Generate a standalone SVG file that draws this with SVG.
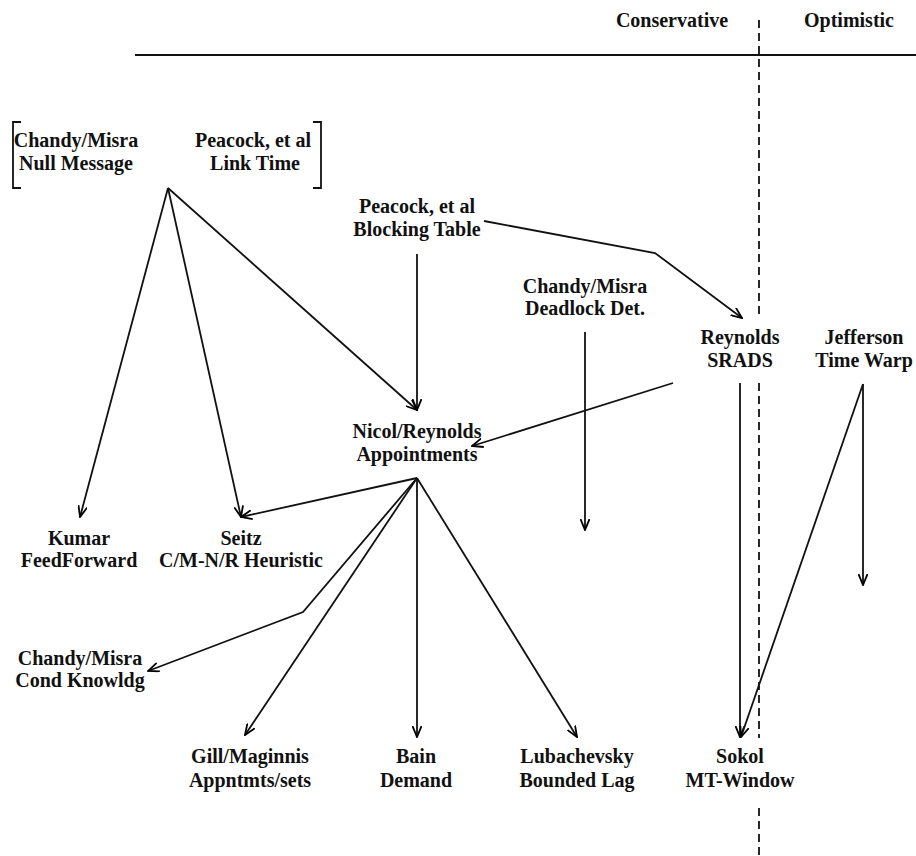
<svg xmlns="http://www.w3.org/2000/svg" width="916" height="856" viewBox="0 0 916 856">
<defs>
<marker id="arr" markerUnits="userSpaceOnUse" viewBox="0 0 12 10" refX="11" refY="5" markerWidth="12" markerHeight="10" orient="auto">
<path d="M0,0.5 L11,5 L0,9.5" fill="none" stroke="#000" stroke-width="1.8"/>
</marker>
<style>
text{font-family:"Liberation Serif","Times New Roman",serif;font-weight:bold;font-size:20px;fill:#111;text-anchor:middle}
.e{fill:none;stroke:#111;stroke-width:1.8}
.a{marker-end:url(#arr)}
.d{fill:none;stroke:#111;stroke-width:1.8;stroke-dasharray:8 5}
</style>
</defs>
<rect width="916" height="856" fill="#fff"/>
<g id="header">
<text x="672" y="27">Conservative</text>
<text x="849" y="27">Optimistic</text>
<line x1="135" y1="55" x2="916" y2="55" class="e"/>
<line x1="759" y1="20" x2="759" y2="318" class="d"/>
<line x1="759" y1="383" x2="759" y2="738" class="d"/>
<line x1="759" y1="808" x2="759" y2="856" class="d"/>
</g>
<g id="connectors">
<line x1="168" y1="188" x2="80" y2="517" class="e a"/>
<line x1="168" y1="188" x2="241" y2="517" class="e a"/>
<line x1="168" y1="188" x2="417" y2="410" class="e a"/>
<line x1="417" y1="254" x2="417" y2="410" class="e a"/>
<polyline points="484,221 655,253 742,318" class="e a"/>
<line x1="585" y1="332" x2="585" y2="530" class="e a"/>
<line x1="673" y1="383" x2="472" y2="446" class="e a"/>
<line x1="417" y1="478" x2="241" y2="517" class="e a"/>
<polyline points="417,478 303,612 148,671" class="e a"/>
<line x1="417" y1="478" x2="245" y2="735" class="e a"/>
<line x1="417" y1="478" x2="417" y2="737" class="e a"/>
<line x1="417" y1="478" x2="577" y2="737" class="e a"/>
<line x1="740" y1="383" x2="740" y2="737" class="e a"/>
<line x1="863" y1="384" x2="741" y2="737" class="e a"/>
<line x1="863" y1="384" x2="863" y2="585" class="e a"/>
</g>
<g id="n-bracket">
<path d="M21,122 H13 V188 H21" class="e"/>
<path d="M313,122 H321 V188 H313" class="e"/>
</g>
<g id="n-null"><text x="76" y="147">Chandy/Misra</text><text x="76" y="170">Null Message</text></g>
<g id="n-link"><text x="253" y="147">Peacock, et al</text><text x="255" y="170">Link Time</text></g>
<g id="n-blocking"><text x="417" y="213">Peacock, et al</text><text x="417" y="236">Blocking Table</text></g>
<g id="n-deadlock"><text x="585" y="293">Chandy/Misra</text><text x="585" y="315">Deadlock Det.</text></g>
<g id="n-srads"><text x="740" y="344">Reynolds</text><text x="740" y="367">SRADS</text></g>
<g id="n-timewarp"><text x="864" y="344">Jefferson</text><text x="864" y="367">Time Warp</text></g>
<g id="n-appoint"><text x="417" y="438">Nicol/Reynolds</text><text x="417" y="461">Appointments</text></g>
<g id="n-kumar"><text x="79" y="545">Kumar</text><text x="79" y="567">FeedForward</text></g>
<g id="n-seitz"><text x="241" y="545">Seitz</text><text x="241" y="567">C/M-N/R Heuristic</text></g>
<g id="n-cond"><text x="80" y="665">Chandy/Misra</text><text x="80" y="687">Cond Knowldg</text></g>
<g id="n-gill"><text x="250" y="763">Gill/Maginnis</text><text x="250" y="787">Appntmts/sets</text></g>
<g id="n-bain"><text x="416" y="763">Bain</text><text x="416" y="787">Demand</text></g>
<g id="n-luba"><text x="577" y="763">Lubachevsky</text><text x="577" y="787">Bounded Lag</text></g>
<g id="n-sokol"><text x="740" y="763">Sokol</text><text x="740" y="787">MT-Window</text></g>
</svg>
